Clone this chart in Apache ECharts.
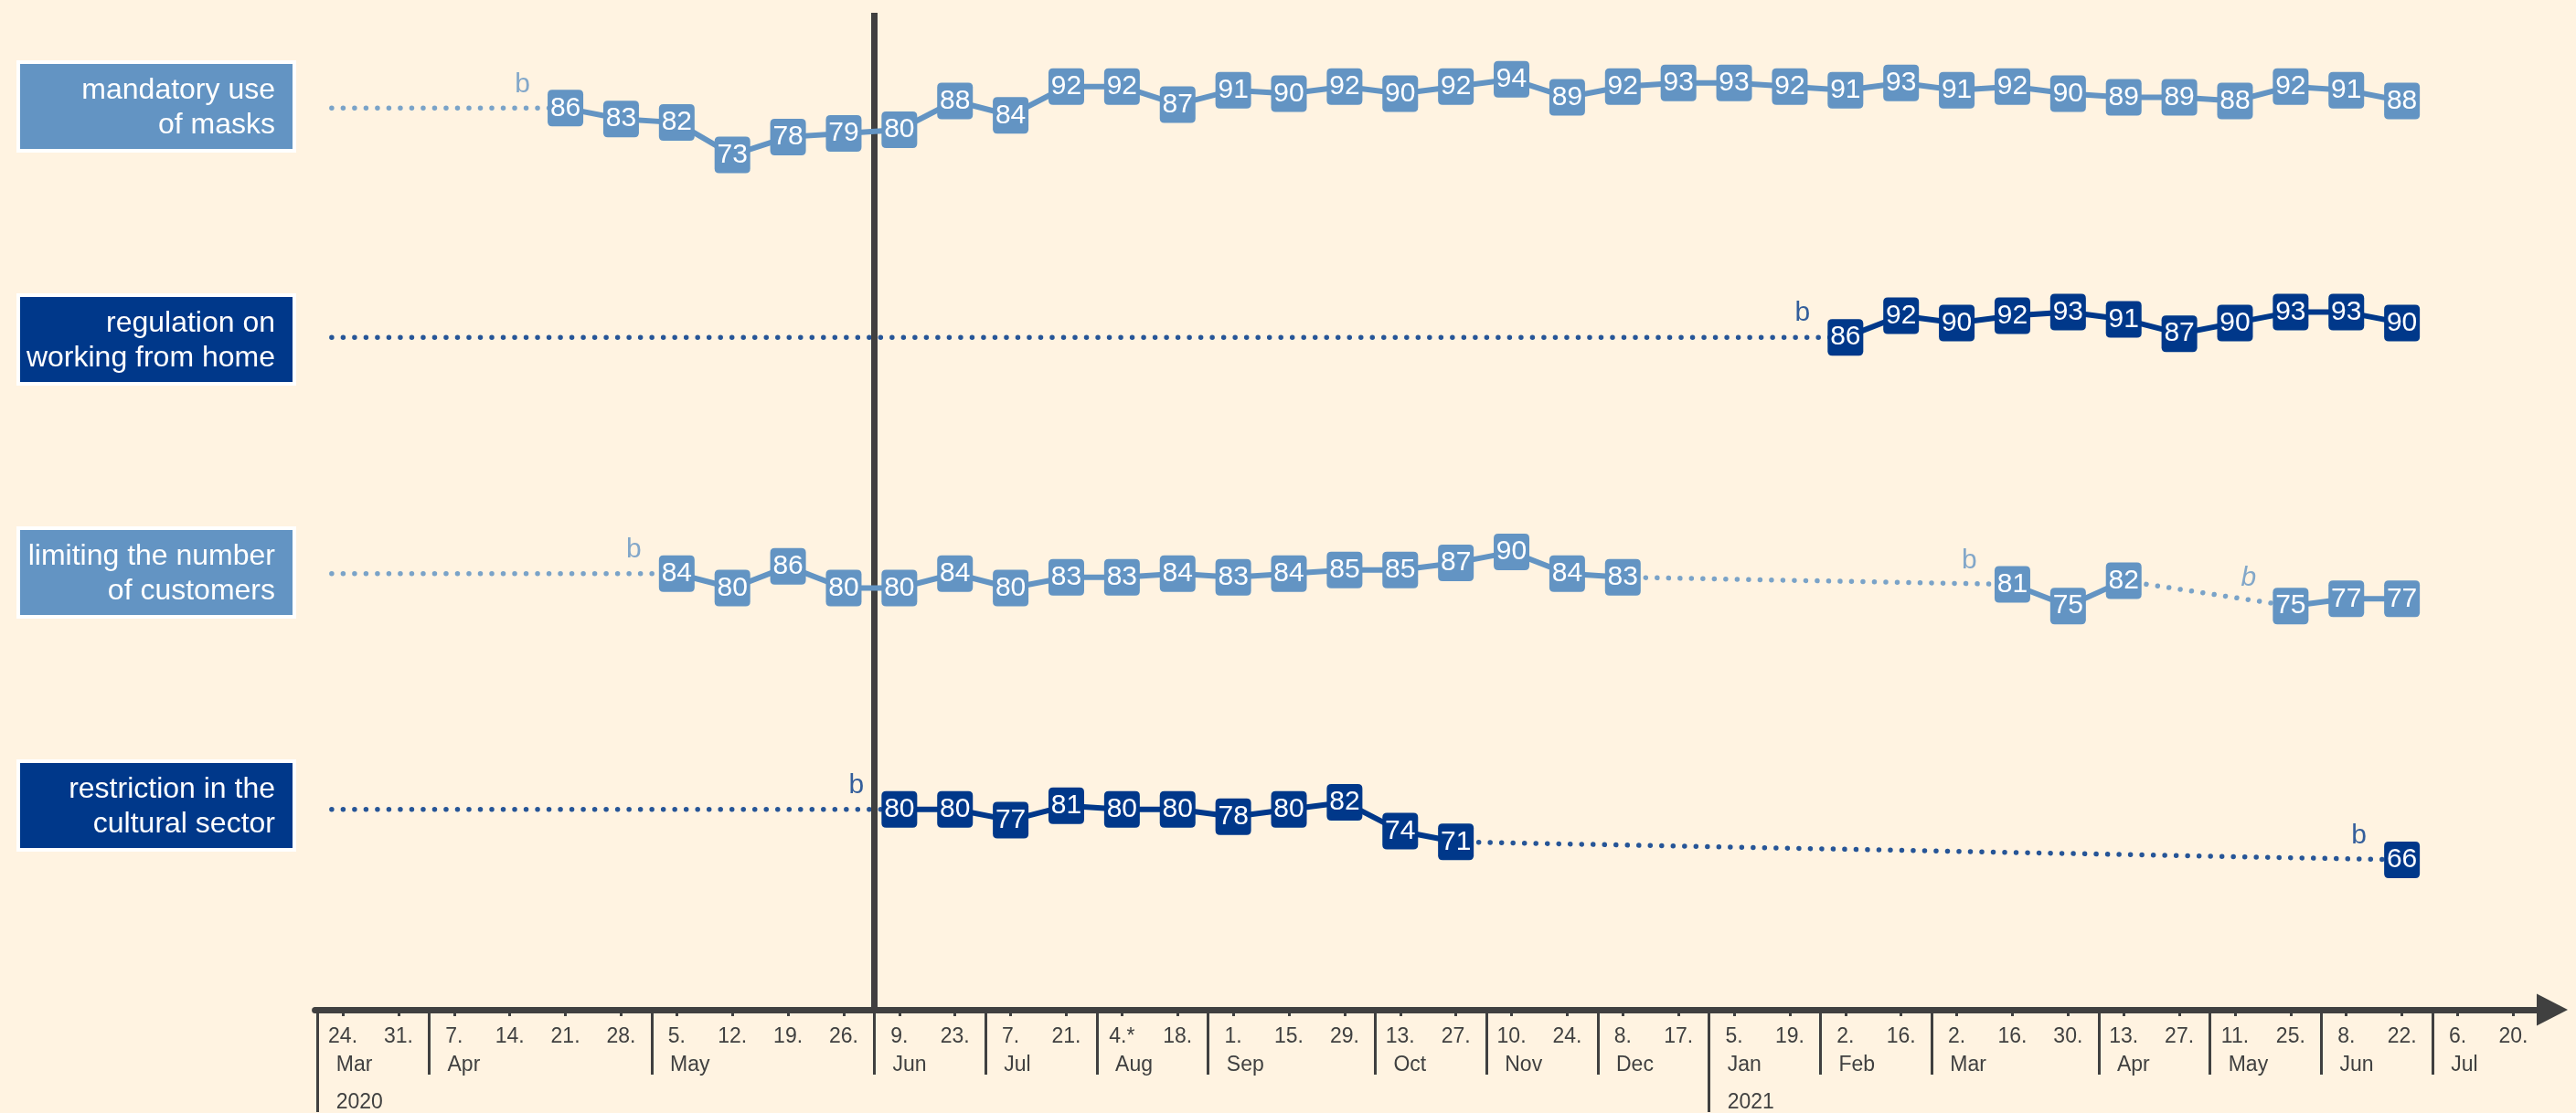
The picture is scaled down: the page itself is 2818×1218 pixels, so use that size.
<!DOCTYPE html>
<html>
<head>
<meta charset="utf-8">
<script src="https://cdn.jsdelivr.net/npm/echarts@6/dist/echarts.min.js"></script>
<style>
html,body{margin:0;padding:0;background:#FFF3E1;}
#chart{width:2818px;height:1218px;}
</style>
</head>
<body>
<div id="chart"></div>
<script>
// ---------- data ----------
const dayLabels = ['24.','31.','7.','14.','21.','28.','5.','12.','19.','26.','9.','23.','7.','21.','4.*','18.','1.','15.','29.','13.','27.','10.','24.','8.','17.','5.','19.','2.','16.','2.','16.','30.','13.','27.','11.','25.','8.','22.','6.','20.'];
const monthNames = ['Mar','Apr','May','Jun','Jul','Aug','Sep','Oct','Nov','Dec','Jan','Feb','Mar','Apr','May','Jun','Jul'];
const monthStarts = [0,2,6,10,12,14,16,19,21,23,25,27,29,32,34,36,38];
const yearNames = ['2020','2021'];
const yearStarts = [0,25];

const rowNames = ['mandatory use\nof masks','regulation on\nworking from home','limiting the number\nof customers','restriction in the\ncultural sector'];

const masks = [null,null,null,null,86,83,82,73,78,79,80,88,84,92,92,87,91,90,92,90,92,94,89,92,93,93,92,91,93,91,92,90,89,89,88,92,91,88,null,null];
const workFromHome = [null,null,null,null,null,null,null,null,null,null,null,null,null,null,null,null,null,null,null,null,null,null,null,null,null,null,null,86,92,90,92,93,91,87,90,93,93,90,null,null];
const customers = [null,null,null,null,null,null,84,80,86,80,80,84,80,83,83,84,83,84,85,85,87,90,84,83,null,null,null,null,null,null,81,75,82,null,null,75,77,77,null,null];
const cultural = [null,null,null,null,null,null,null,null,null,null,80,80,77,81,80,80,78,80,82,74,71,null,null,null,null,null,null,null,null,null,null,null,null,null,null,null,null,66,null,null];

const masksBreaks = [4];
const workFromHomeBreaks = [27];
const customersBreaks = [6,30,35];
const culturalBreaks = [10,37];
const italicBreaks = [[2,35]]; // [row, index]

const verticalMarkBetween = [9,10];

// ---------- style / layout ----------
const LIGHT = '#6394C3';
const DARK = '#00388A';
const AXIS = '#404040';
const FONT = '"Liberation Sans", Arial, sans-serif';
const X_MIN = -0.5, X_MAX = 39.7;
const GRID_LEFT = 344.6, GRID_RIGHT = 26;
const SEP_SHIFT = 0.45;
const LBL_SHIFT = 0.12;
const LEAD_START = -0.2;
const ROW_TOPS = [63.2, 314.0, 564.7, 807.0];
const ROW_H = 157.6;
const BOX_TOPS = [68, 323, 578, 833];

const rows = [
  {name: rowNames[0], values: masks, breaks: masksBreaks, color: LIGHT},
  {name: rowNames[1], values: workFromHome, breaks: workFromHomeBreaks, color: DARK},
  {name: rowNames[2], values: customers, breaks: customersBreaks, color: LIGHT},
  {name: rowNames[3], values: cultural, breaks: culturalBreaks, color: DARK}
];

const grids = [{left: GRID_LEFT, right: GRID_RIGHT, top: 14, bottom: 112}];
ROW_TOPS.forEach(t => grids.push({left: GRID_LEFT, right: GRID_RIGHT, top: t, height: ROW_H}));

const idx = dayLabels.map((_, i) => i);
const monthSeps = monthStarts.slice(1).filter(s => yearStarts.indexOf(s) < 0).map(s => s - SEP_SHIFT);
const yearSeps = yearStarts.map(s => s - SEP_SHIFT);
const monthLabelPos = monthStarts.map(s => s - LBL_SHIFT);
const yearLabelPos = yearStarts.map(s => s - LBL_SHIFT);

function findName(list, names, v) {
  const k = list.findIndex(p => Math.abs(p - v) < 1e-6);
  return k >= 0 ? names[k] : '';
}

const baseX = {type: 'value', min: X_MIN, max: X_MAX, gridIndex: 0, position: 'bottom', splitLine: {show: false}};
const xAxes = [
  Object.assign({}, baseX, {
    axisLine: {show: true, symbol: ['none', 'triangle'], symbolSize: [35, 34], lineStyle: {color: AXIS, width: 7}},
    axisTick: {show: true, customValues: idx, length: 7, lineStyle: {color: AXIS, width: 3}},
    axisLabel: {show: true, customValues: idx, margin: 18, color: AXIS, fontSize: 23, fontFamily: FONT,
      formatter: v => dayLabels[Math.round(v)]}
  }),
  Object.assign({}, baseX, {
    axisLine: {show: false},
    axisTick: {show: true, customValues: monthSeps, length: 71, lineStyle: {color: AXIS, width: 3}},
    axisLabel: {show: true, customValues: monthLabelPos, margin: 49, align: 'left', color: AXIS, fontSize: 23, fontFamily: FONT,
      formatter: v => findName(monthLabelPos, monthNames, v)}
  }),
  Object.assign({}, baseX, {
    axisLine: {show: false},
    axisTick: {show: true, customValues: yearSeps, length: 112, lineStyle: {color: AXIS, width: 3}},
    axisLabel: {show: true, customValues: yearLabelPos, margin: 90, align: 'left', color: AXIS, fontSize: 23, fontFamily: FONT,
      formatter: v => findName(yearLabelPos, yearNames, v)}
  })
];
const yAxes = [{type: 'value', gridIndex: 0, min: 0, max: 1, show: false, splitLine: {show: false}}];
rows.forEach((r, k) => {
  xAxes.push({type: 'value', gridIndex: k + 1, min: X_MIN, max: X_MAX, show: false, splitLine: {show: false}});
  yAxes.push({type: 'value', gridIndex: k + 1, min: 60, max: 100, show: false, splitLine: {show: false}});
});

const BOX_PATH = 'path://M5,0 H34 Q39,0 39,5 V35 Q39,40 34,40 H5 Q0,40 0,35 V5 Q0,0 5,0 Z';

const series = [{
  type: 'line', xAxisIndex: 0, yAxisIndex: 0, data: [], z: 20,
  markLine: {
    silent: true, symbol: ['none', 'none'], label: {show: false},
    lineStyle: {color: AXIS, width: 7, type: 'solid'},
    data: [{xAxis: (verticalMarkBetween[0] + verticalMarkBetween[1]) / 2 + (0.5 - SEP_SHIFT)}]
  }
}];

rows.forEach((r, k) => {
  const xi = k + 3, yi = k + 1;
  const vals = r.values;
  const segs = [];
  const first = vals.findIndex(v => v != null);
  segs.push([[LEAD_START, vals[first]], [first, vals[first]]]);
  let last = null;
  vals.forEach((v, i) => {
    if (v == null) return;
    if (last != null && i - last > 1) segs.push([[last, vals[last]], [i, v]]);
    last = i;
  });
  segs.forEach(s => series.push({
    type: 'line', xAxisIndex: xi, yAxisIndex: yi, data: s, symbol: 'none', silent: true, z: 2,
    lineStyle: {color: r.color, width: 5.5, opacity: 0.85, type: [0.01, 12.5], cap: 'round'}
  }));
  series.push({
    type: 'line', xAxisIndex: xi, yAxisIndex: yi, z: 5,
    data: vals.map((v, i) => [i, v]),
    symbol: BOX_PATH, symbolSize: [39, 40], showSymbol: true, showAllSymbol: true, connectNulls: false,
    lineStyle: {color: r.color, width: 6}, itemStyle: {color: r.color},
    label: {show: true, position: 'inside', color: '#fff', fontSize: 30, fontFamily: FONT,
      formatter: p => p.value[1]},
    emphasis: {disabled: true}
  });
  series.push({
    type: 'scatter', xAxisIndex: xi, yAxisIndex: yi, z: 6, silent: true,
    symbolSize: 1, itemStyle: {color: 'rgba(0,0,0,0)'},
    data: r.breaks.map(i => {
      const it = italicBreaks.some(p => p[0] === k && p[1] === i);
      return it ? {value: [i, vals[i]], label: {fontStyle: 'italic', offset: [-46, -31]}} : {value: [i, vals[i]]};
    }),
    label: {show: true, formatter: 'b', position: 'inside', offset: [-47, -26], color: r.color, fontSize: 30, fontFamily: FONT}
  });
});

const graphic = [];
rows.forEach((r, k) => {
  graphic.push({type: 'rect', shape: {x: 20, y: BOX_TOPS[k], width: 302, height: 97},
    style: {fill: r.color, stroke: '#fff', lineWidth: 4}, silent: true});
  graphic.push({type: 'text', x: 301, y: BOX_TOPS[k] + 50,
    style: {text: r.name, fill: '#fff', font: '32px ' + FONT, align: 'right', verticalAlign: 'middle', lineHeight: 38}, silent: true});
});

const chart = echarts.init(document.getElementById('chart'), null, {renderer: 'canvas'});
chart.setOption({
  backgroundColor: '#FFF3E1',
  animation: false,
  grid: grids,
  xAxis: xAxes,
  yAxis: yAxes,
  series: series,
  graphic: graphic
});
</script>
</body>
</html>
